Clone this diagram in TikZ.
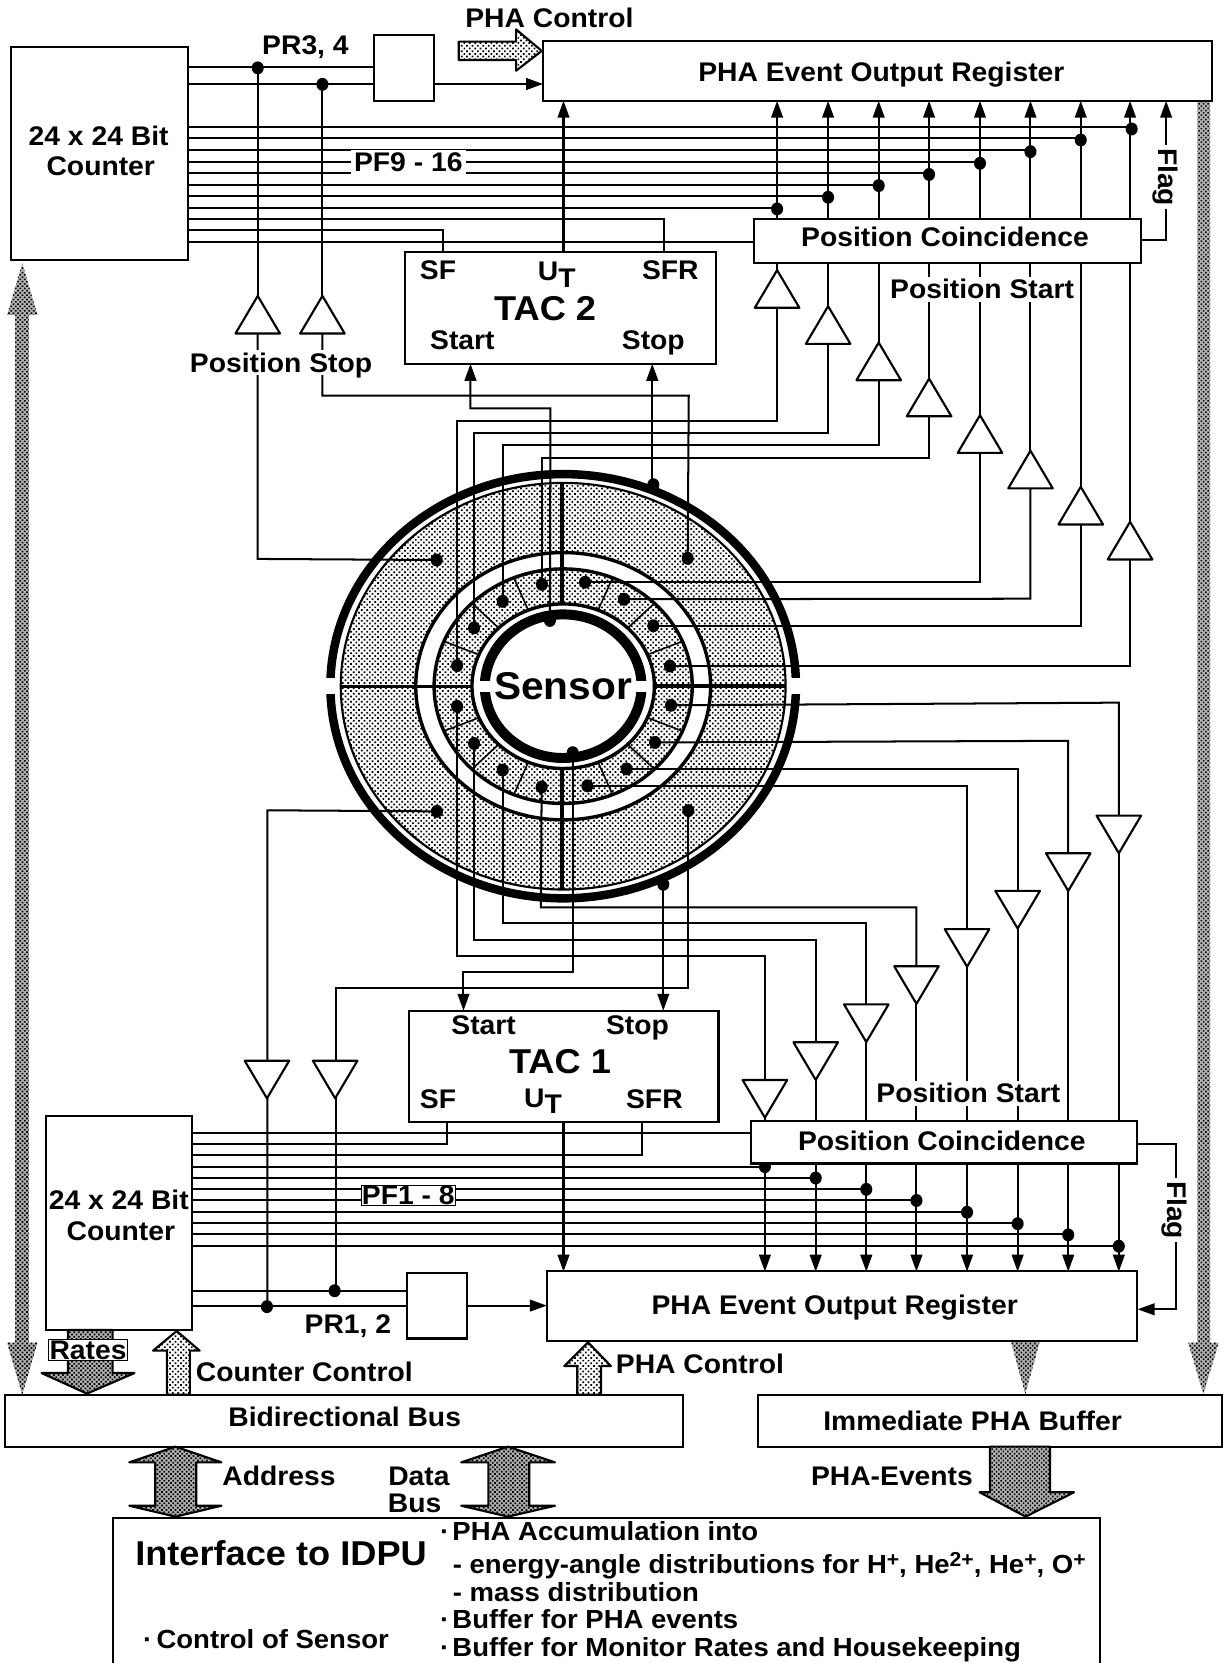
\documentclass[tikz,border=0pt]{standalone}
\usepackage{fontspec}
\setmainfont{Liberation Sans}[FakeStretch=1.05]
\usetikzlibrary{arrows.meta,patterns.meta}
\newcommand{\supr}[1]{\raisebox{7pt}{\fontsize{19}{19}\selectfont #1}}
\tikzset{
 lab/.style={font=\bfseries\fontsize{25.4}{27}\selectfont,inner sep=1pt,outer sep=0pt,text height=17.5pt,text depth=0pt},
 labs/.style={lab,anchor=west,font=\bfseries\fontsize{24.7}{27}\selectfont},
 labw/.style={lab,fill=white,inner sep=3pt},
 box/.style={draw=black,fill=white,line width=2pt,inner sep=0pt,outer sep=0pt,anchor=north west},
 wire/.style={line width=1.9pt,line join=miter},
 awire/.style={wire,-{Triangle[length=16pt,width=11pt]}},
 tri/.style={draw=black,fill=white,line width=2pt,line join=round},
 dotm/.style={fill=black},
 lightf/.style={preaction={fill=white},pattern={Dots[distance=3.6pt,radius=1.15pt,angle=45]}},
 darkf/.style={preaction={fill=gray!60},pattern={Dots[distance=3pt,radius=1.05pt,angle=45]}},
 fatl/.style={draw=black,line width=2pt,line join=round,lightf},
 fatd/.style={draw=black,line width=2pt,line join=round,darkf},
 fatn/.style={darkf},
 ring/.style={draw=black}
}
\begin{document}
\begin{tikzpicture}[x=1pt,y=-1pt]
\useasboundingbox (0,0) rectangle (1155,1568);
\fill[white] (0,0) rectangle (1155,1568);
% ---------- Sensor disk
\draw[ring,line width=8pt] (531,647) ellipse [x radius=219.5pt,y radius=200pt];
\fill[white] (300,639.6) rectangle (319,654.4);
\fill[white] (743,639.6) rectangle (760,654.4);
\path[lightf] (531,647) ellipse [x radius=209.7pt,y radius=191.7pt];
\draw[ring,line width=2pt] (531,647) ellipse [x radius=209.7pt,y radius=191.7pt];
\fill[white] (531,647) ellipse [x radius=139pt,y radius=126pt];
\draw[ring,line width=3.2pt] (531,647) ellipse [x radius=139pt,y radius=126pt];
\path[lightf] (531,647) ellipse [x radius=121.7pt,y radius=110.6pt];
\draw[ring,line width=3.2pt] (531,647) ellipse [x radius=121.7pt,y radius=110.6pt];
\foreach \t in {22.5,45,67.5,112.5,135,157.5,202.5,225,247.5,292.5,315,337.5}
  \draw[line width=1.5pt] ({531+86*cos(\t)},{647-77.6*sin(\t)}) -- ({531+121.7*cos(\t)},{647-110.6*sin(\t)});
\fill[white] (531,647) ellipse [x radius=86pt,y radius=77.6pt];
\draw[ring,line width=3.2pt] (531,647) ellipse [x radius=86pt,y radius=77.6pt];
\draw[line width=2.6pt] (321.3,647) -- (445,647);
\draw[line width=3.4pt] (617,647) -- (740.7,647);
\draw[line width=3.6pt] (530,455.3) -- (530,569.4);
\draw[line width=3.6pt] (530,724.6) -- (530,838.7);
\draw[ring,line width=9.4pt] (531,647) ellipse [x radius=73.9pt,y radius=67.7pt];
\fill[white] (448,641.7) rectangle (467,652.3);
\fill[white] (595,641.7) rectangle (614,652.3);
% ---------- named points on the sensor
\coordinate (st1) at (431,627.6);
\coordinate (st2) at (447,592);
\coordinate (st3) at (474,567);
\coordinate (st4) at (511,551);
\coordinate (st5) at (551.6,549);
\coordinate (st6) at (588.3,565);
\coordinate (st7) at (616,590);
\coordinate (st8) at (631.7,628);
\coordinate (sb8) at (632.7,665);
\coordinate (sb7) at (617.6,700);
\coordinate (sb6) at (590.8,725);
\coordinate (sb5) at (553.8,741);
\coordinate (sb4) at (510.7,742);
\coordinate (sb3) at (474,726);
\coordinate (sb2) at (447,701);
\coordinate (sb1) at (431,666);
\coordinate (sA) at (518.5,585);
\coordinate (sB) at (540,709.7);
\coordinate (oT) at (616,457);
\coordinate (oB) at (625.4,833.8);
\coordinate (qTL) at (411.7,528);
\coordinate (qTR) at (648.4,526.4);
\coordinate (qBL) at (412,765);
\coordinate (qBR) at (649,764.3);
% ---------- boxes' named positions
\coordinate (cntAw) at (177,0);
\coordinate (cntBw) at (181,0);
% ---------- upper wires from counter
\foreach \y/\x in {120/1067,130.5/1019,141.5/971.6,152.5/924,163/876,174/828.5,185/780.8,196/732.7}
  \draw[wire] (cntAw |- 0,\y) -- (\x,\y);
\draw[wire] (cntAw |- 0,206.6) -- (626.4,206.6) -- (626.4,238);
\draw[wire] (cntAw |- 0,217) -- (417.6,217) -- (417.6,238);
\draw[wire] (cntAw |- 0,228) -- (711,228);
\draw[wire] (cntAw |- 0,63.5) -- (353,63.5);
\draw[wire] (cntAw |- 0,79.2) -- (353,79.2);
\draw[awire] (409,79.2) -- (512,79.2);
\draw[wire] (243,63.5) -- (243,300);
\draw[wire] (304,79.2) -- (304,300);
% triangles upper start
\foreach \i/\x/\a in {1/732.7/254.7,2/780.8/288.7,3/828.5/323,4/876/357,5/924/391.5,6/971.6/425,7/1019/459,8/1065.5/492}{
  \coordinate (tu\i a) at (\x,\a);
  \coordinate (tu\i b) at (\x,\a+35.5);
  \draw[awire] (tu\i a) -- (\x,95);
}
\draw[wire] (tu1b) -- (732.7,396.5) -- (431,396.5) -- (st1);
\draw[wire] (tu2b) -- (780.8,408) -- (447,408) -- (st2);
\draw[wire] (tu3b) -- (828.5,420) -- (474,420) -- (st3);
\draw[wire] (tu4b) -- (876,432) -- (511,432) -- (st4);
\draw[wire] (tu5b) -- (924,549) -- (st5);
\draw[wire] (tu6b) -- (971.6,564.5) -- (st6);
\draw[wire] (tu7b) -- (1019,590) -- (st7);
\draw[wire] (tu8b) -- (1065.5,628) -- (st8);
% Position stop upper
\draw[wire] (243,314) -- (243,527) -- (qTL);
\draw[wire] (304,314) -- (304,373) -- (649.4,373) -- (qTR);
% TAC2 start/stop
\draw[awire] (sA) -- (519,385) -- (443.6,385) -- (443.6,343);
\draw[awire] (oT) -- (615,457) -- (615,343);
% UT upper
\draw[awire] (531.3,238) -- (531.3,95);
% Flag upper
\draw[awire] (1076,226) -- (1099.5,226) -- (1099.5,95);
% ---------- lower wires
\foreach \i/\x/\b in {1/721.2/1018.3,2/769.1/982.7,3/816.8/947,4/864.1/911,5/911.8/876,6/959.5/840,7/1007.2/804.5,8/1054.9/769}{
  \coordinate (tb\i a) at (\x,\b+35.5);
  \coordinate (tb\i b) at (\x,\b);
  \draw[awire] (tb\i a) -- (\x,1199);
}
\draw[wire] (sb1) -- (431,901) -- (721.2,901) -- (tb1b);
\draw[wire] (sb2) -- (447,886) -- (769.1,886) -- (tb2b);
\draw[wire] (sb3) -- (474,870) -- (816.8,870) -- (tb3b);
\draw[wire] (sb4) -- (510,855.5) -- (864.1,855.5) -- (tb4b);
\draw[wire] (sb5) -- (911.8,741) -- (tb5b);
\draw[wire] (sb6) -- (959.5,725) -- (tb6b);
\draw[wire] (sb7) -- (1007.2,698.5) -- (tb7b);
\draw[wire] (sb8) -- (1054.9,662.5) -- (tb8b);
\foreach \y/\x in {1100/721.2,1110.7/769.1,1121.4/816.8,1131.7/864.1,1142.4/911.8,1153/959.5,1163.8/1007.2,1174.5/1054.9}
  \draw[wire] (cntBw |- 0,\y) -- (\x,\y);
\draw[wire] (cntBw |- 0,1067.9) -- (708,1067.9);
\draw[wire] (cntBw |- 0,1078.7) -- (421.3,1078.7) -- (421.3,1057.6);
\draw[wire] (cntBw |- 0,1089.4) -- (605.5,1089.4) -- (605.5,1057.6);
\draw[wire] (cntBw |- 0,1217) -- (384,1217);
\draw[wire] (cntBw |- 0,1231) -- (384,1231);
\draw[awire] (440.7,1231) -- (515.6,1231);
\draw[wire] (qBL) -- (252,764) -- (252,1232);
\draw[wire] (qBR) -- (649,932) -- (316.5,932) -- (316.5,1217);
\draw[awire] (sB) -- (540,916) -- (437,916) -- (437,953);
\draw[awire] (oB) -- (625.4,953);
\draw[awire] (531.3,1057.6) -- (531.3,1199);
\draw[awire] (1072.4,1078.6) -- (1109,1078.6) -- (1109,1234.5) -- (1072.6,1234.5);
% ---------- dots
\foreach \p in {st1,st2,st3,st4,st5,st6,st7,st8,sb1,sb2,sb3,sb4,sb5,sb6,sb7,sb8,sA,sB,oT,oB,qTL,qTR,qBL,qBR}
  \fill[dotm] (\p) ellipse [x radius=5.7pt,y radius=6.1pt];
\foreach \x/\y in {243/64,304/79.5,1067/121.6,1019/132,971.6/143,924/154,876/164.5,828.5/175,780.8/186,732.7/197,
  721.2/1100,769.1/1110.7,816.8/1121.4,864.1/1131.9,911.8/1143,959.5/1153.8,1007.2/1164.3,1054.9/1175,251.7/1232,315.5/1217}
  \fill[dotm] (\x,\y) ellipse [x radius=5.7pt,y radius=6.1pt];
% ---------- triangles
\foreach \i in {1,...,8}{
  \draw[tri] (tu\i a) -- ++(21,35.5) -- ++(-42,0) -- cycle;
  \draw[tri] (tb\i a) -- ++(21,-35.5) -- ++(-42,0) -- cycle;
}
\coordinate (tpa) at (243,279);
\coordinate (tpb) at (304,279);
\draw[tri] (tpa) -- ++(21,35.5) -- ++(-42,0) -- cycle;
\draw[tri] (tpb) -- ++(21,35.5) -- ++(-42,0) -- cycle;
\coordinate (tqa) at (251.7,1035.6);
\coordinate (tqb) at (316,1035.6);
\draw[tri] (tqa) -- ++(21,-35.5) -- ++(-42,0) -- cycle;
\draw[tri] (tqb) -- ++(21,-35.5) -- ++(-42,0) -- cycle;
% ---------- big bus arrows (behind boxes)
\path[fatn] (1129,95) -- (1141,95) -- (1141,1266) -- (1149,1266) -- (1134.7,1314.5) -- (1120.3,1266) -- (1129,1266) -- cycle;
\path[fatn] (953,1264) -- (980.6,1264) -- (966.7,1314.5) -- cycle;
\path[fatn] (21,248.4) -- (35.4,297) -- (27.2,297) -- (27.2,1266) -- (35.4,1266) -- (21,1315) -- (6.7,1266) -- (14.2,1266) -- (14.2,297) -- (6.7,297) -- cycle;
% ---------- boxes
\node[box,minimum width=167pt,minimum height=201pt] (cntA) at (10,44) {};
\node[box,minimum width=56pt,minimum height=62pt] (prA) at (353,33) {};
\node[box,minimum width=631pt,minimum height=56pt] (regA) at (512,39) {};
\node[box,minimum width=365pt,minimum height=41pt] (pcA) at (711,206.6) {};
\node[box,minimum width=293pt,minimum height=105pt] (tacB) at (382,238) {};
\node[box,minimum width=291.4pt,minimum height=104.6pt] (tacA) at (386,953) {};
\node[box,minimum width=364.4pt,minimum height=40.4pt] (pcB) at (708,1056.6) {};
\node[box,minimum width=138pt,minimum height=202pt] (cntB) at (43,1052) {};
\node[box,minimum width=56.7pt,minimum height=61.6pt] (prB) at (384,1200.4) {};
\node[box,minimum width=556.6pt,minimum height=65.6pt] (regB) at (515.6,1198.4) {};
\node[box,minimum width=639.5pt,minimum height=48.3pt] (bus) at (4.5,1315.7) {};
\node[box,minimum width=437pt,minimum height=48.3pt] (imm) at (715,1315.7) {};
\draw[line width=2pt] (106.5,1568) -- (106.5,1431) -- (1037,1431) -- (1037,1568);
% ---------- fat arrows
\draw[fatl] (432.5,39.3) -- (486.6,39.3) -- (486.6,27.7) -- (510.8,48) -- (486.6,66.7) -- (486.6,56.6) -- (432.5,56.6) -- cycle;
\draw[fatl] (157.3,1315) -- (157.3,1273.5) -- (144.3,1273.5) -- (166.6,1255) -- (188.3,1273.5) -- (179,1273.5) -- (179,1315) -- cycle;
\draw[fatl] (544.3,1315) -- (544.3,1288) -- (532,1288) -- (554.4,1265.6) -- (576,1288) -- (566.7,1288) -- (566.7,1315) -- cycle;
\draw[fatd] (64.1,1254) -- (106.2,1254) -- (106.2,1294.6) -- (126.8,1294.6) -- (82,1314) -- (39.2,1294.6) -- (64.1,1294.6) -- cycle;
\draw[fatd] (165.5,1364) -- (208.8,1378.8) -- (185,1378.8) -- (185,1419.7) -- (208.8,1419.7) -- (165.5,1430) -- (121.9,1419.7) -- (146.4,1419.7) -- (146.4,1378.8) -- (121.9,1378.8) -- cycle;
\draw[fatd] (479,1364) -- (523.3,1378.8) -- (499,1378.8) -- (499,1419.7) -- (523.3,1419.7) -- (479,1430) -- (434.9,1419.7) -- (460.5,1419.7) -- (460.5,1378.8) -- (434.9,1378.8) -- cycle;
\draw[fatd] (933.4,1364) -- (990,1364) -- (990,1407) -- (1012.7,1407) -- (967,1430) -- (923.6,1407) -- (933.4,1407) -- cycle;
% ---------- labels
\node[lab] (l1) at (518,17) {PHA Control};
\node[lab] (l2) at (288,43) {PR3, 4};
\node[lab] (l3) at (831,68) {PHA Event Output Register};
\node[lab] (l4) at (93,128) {24 x 24 Bit};
\node[lab] (l4b) at (95,157) {Counter};
\node[labw] (l5) at (385,153) {PF9 - 16};
\node[lab] (l6) at (891,224) {Position Coincidence};
\node[labw] (l7) at (926,273) {Position Start};
\node[labw,rotate=-90] (l8) at (1101,167) {Flag};
\node[lab] (l9) at (413,255) {SF};
\node[lab] (l10) at (525,256) {U\raisebox{-6pt}{T}};
\node[lab] (l11) at (632,255) {SFR};
\node[lab,font=\bfseries\fontsize{32.5}{34}\selectfont,text height=23.5pt] (l12) at (514,290) {TAC 2};
\node[lab] (l13) at (436,321) {Start};
\node[lab] (l14) at (616,321) {Stop};
\node[labw] (l15) at (265,342) {Position Stop};
\node[lab,font=\bfseries\fontsize{36.5}{38}\selectfont,text height=26pt] (l16) at (531,647) {Sensor};
\node[lab] (l17) at (456,967) {Start};
\node[lab] (l18) at (601,967) {Stop};
\node[lab,font=\bfseries\fontsize{32.5}{34}\selectfont,text height=23.5pt] (l19) at (528,1000) {TAC 1};
\node[lab] (l20) at (413,1036) {SF};
\node[lab] (l21) at (512,1035) {U\raisebox{-6pt}{T}};
\node[lab] (l22) at (617,1036) {SFR};
\node[labw] (l23) at (913,1031) {Position Start};
\node[lab] (l24) at (888,1076) {Position Coincidence};
\node[lab] (l25) at (112,1132) {24 x 24 Bit};
\node[lab] (l25b) at (114,1161) {Counter};
\node[labw,draw=black,line width=.6pt,inner sep=1pt] (l26) at (385,1127) {PF1 - 8};
\node[labw,rotate=-90] (l27) at (1110,1141) {Flag};
\node[lab] (l28) at (328,1249) {PR1, 2};
\node[lab] (l29) at (787,1231) {PHA Event Output Register};
\node[labw,draw=black,line width=.6pt,inner sep=1pt] (l30) at (83,1273) {Rates};
\node[lab] (l31) at (287,1294) {Counter Control};
\node[lab] (l32) at (660,1286) {PHA Control};
\node[lab] (l33) at (325,1336) {Bidirectional Bus};
\node[lab] (l34) at (917,1340) {Immediate PHA Buffer};
\node[lab] (l35) at (263,1392) {Address};
\node[lab] (l36) at (395,1392) {Data};
\node[lab] (l37) at (391,1417) {Bus};
\node[lab] (l38) at (841,1392) {PHA-Events};
\node[lab,font=\bfseries\fontsize{32.5}{34}\selectfont,text height=23.5pt] (l39) at (265,1464) {Interface to IDPU};
\node[labs] (l40) at (414,1444) {·\hspace{3pt}PHA Accumulation into};
\node[labs] (l41) at (426,1475) {- energy-angle distributions for H\supr{+}, He\supr{2+}, He\supr{+}, O\supr{+}};
\node[labs] (l42) at (426,1501) {- mass distribution};
\node[labs] (l43) at (414,1527) {·\hspace{3pt}Buffer for PHA events};
\node[labs] (l44) at (414,1553) {·\hspace{3pt}Buffer for Monitor Rates and Housekeeping};
\node[labs] (l45) at (134,1546) {·\hspace{4pt}Control of Sensor};
\end{tikzpicture}
\end{document}
